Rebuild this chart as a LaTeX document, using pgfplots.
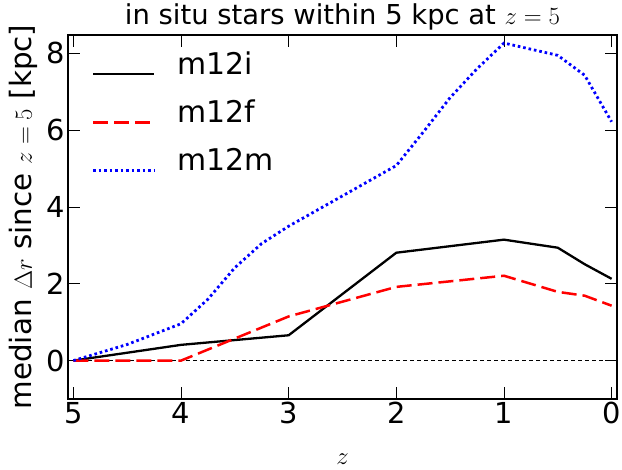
\documentclass[border=0pt]{standalone}
\usepackage{fontspec}
\setmainfont{DejaVu Sans}
\usepackage{pgfplots}
\pgfplotsset{compat=1.18}
\begin{document}
\begin{tikzpicture}
\begin{axis}[
  name=ax,
  scale only axis, width=549bp, height=364bp,
  x dir=reverse, xmin=-0.05, xmax=5.05, ymin=-1, ymax=8.48,
  xtick={0,1,2,3,4,5}, ytick={0,2,4,6,8},
  tick align=inside, major tick length=12bp,
  tick style={black, line width=0.9bp},
  axis line style={line width=1.2bp},
  /pgf/number format/assume math mode=true,
  tick label style={font=\fontsize{29}{34}\selectfont},
  every axis title/.style={at={(axis description cs:0.5,1.0275)}, anchor=base, font=\fontsize{27.5}{32}\selectfont},
  every axis y label/.style={at={(axis description cs:-0.0656,0.5)}, rotate=90, anchor=base, font=\fontsize{29.5}{34}\selectfont},
  every axis x label/.style={at={(axis description cs:0.5,-0.1813)}, anchor=base, font=\fontsize{30}{34}\selectfont},
  title={in situ stars within 5 kpc at $z=5$},
  ylabel={median $\Delta r$ since $z=5$ [kpc]},
  xlabel={$z$},
  legend image code/.code={\draw[#1] (0bp,0bp) -- (61bp,0bp);},
  legend style={at={(axis description cs:0.043,0.953)}, anchor=north west, draw=none, fill=none,
    font=\fontsize{30}{34}\selectfont, row sep=4bp, column sep=22bp, inner sep=0pt,
    nodes={inner sep=0bp, text height=22bp, text depth=22bp}},
  legend cell align=left,
]
\addplot[black, line width=0.9bp, dash pattern=on 4bp off 3bp, forget plot] coordinates {(-0.05,0) (5.05,0)};
\addplot[black, line width=2.3bp] coordinates {
(5,0) (4,0.41) (3,0.66) (2,2.81) (1,3.15) (0.5,2.94) (0.25,2.51) (0,2.13)};
\addlegendentry{m12i}
\addplot[red, line width=2.5bp, dash pattern=on 15bp off 6bp] coordinates {
(5,0) (4,0) (3,1.15) (2,1.92) (1,2.21) (0.5,1.79) (0.25,1.69) (0,1.43)};
\addlegendentry{m12f}
\addplot[blue, line width=2.8bp, dash pattern=on 2.6bp off 2.9bp] coordinates {
(5,0) (4.5,0.42) (4,0.96) (3.75,1.6) (3.5,2.42) (3.25,3.05) (3,3.5) (2,5.08) (1.75,5.95) (1.5,6.85) (1.25,7.6) (1,8.27) (0.5,7.95) (0.25,7.43) (0,6.22)};
\addlegendentry{m12m}
\end{axis}
\pgfresetboundingbox
\path (ax.south west) ++(-68bp,-71bp) rectangle ++(622bp,470bp);
\end{tikzpicture}
\end{document}
